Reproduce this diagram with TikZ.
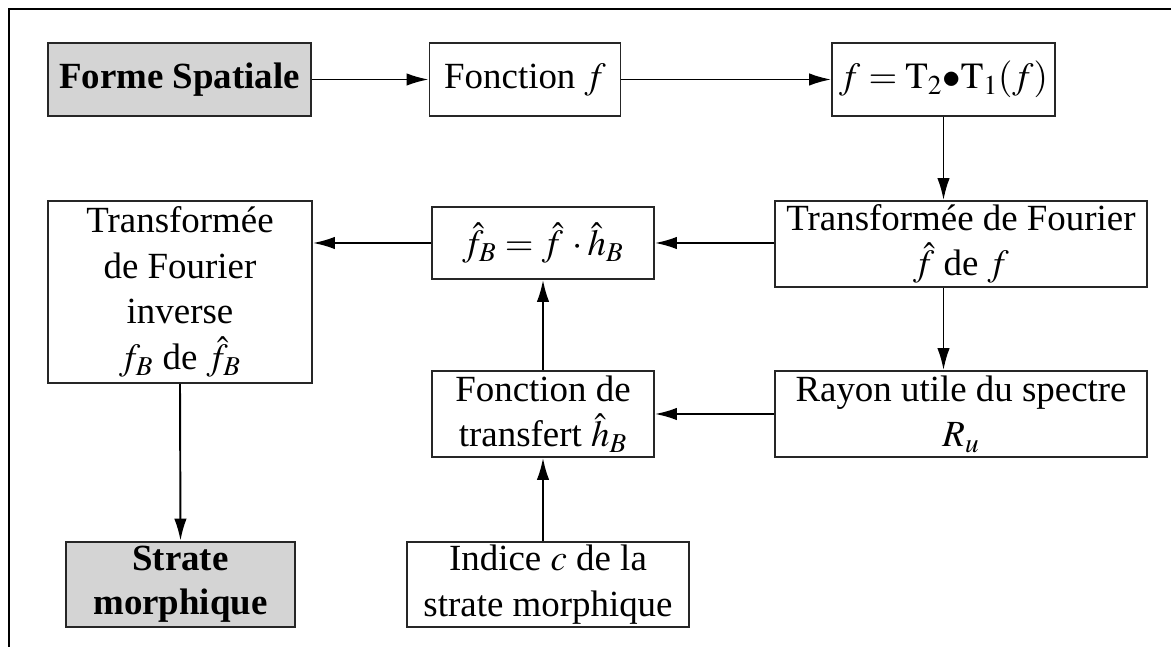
\documentclass[tikz,border=0pt]{standalone}
\usepackage{mathptmx}
\usepackage[no-math]{fontspec}
\setmainfont{Liberation Serif}
\usepackage{tikz}
\usetikzlibrary{arrows.meta,calc,positioning}
\definecolor{formegray}{RGB}{212,212,212}
\tikzset{
  box/.style={draw=black!85, line width=1.1pt, fill=white,
              inner sep=0pt, align=center,
              font=\fontsize{21}{26}\selectfont},
  greybox/.style={box, fill=formegray, line width=1.6pt,
                  font=\fontsize{21}{25}\selectfont\bfseries},
  flow/.style={-{Latex[length=4.4mm,width=2.5mm]}, line width=1.1pt},
  frame/.style={black, line width=1.6pt},
}
\begin{document}
\begin{tikzpicture}[x=1cm,y=1cm]
  \path[use as bounding box] (0,0) rectangle (23.42,12.94);

  % outer frame (top and left only)
  \draw[frame] (0.18,0) -- (0.18,12.76) -- (23.42,12.76);

  % top row
  \node[greybox, minimum width=5.26cm, minimum height=1.46cm] (forme)
    at (3.59,11.35) {Forme Spatiale};
  \node[box, minimum width=3.82cm, minimum height=1.46cm] (fonction)
    at (10.50,11.35) {Fonction $f$};
  \node[box, minimum width=4.46cm, minimum height=1.46cm] (compo)
    at (18.87,11.35) {$f=\mathrm{T}_2{\bullet}\mathrm{T}_1(f)$};

  % middle rows
  \node[box, minimum width=7.44cm, minimum height=1.72cm] (tf)
    at (19.22,8.06) {Transformée de Fourier\\$\hat{f}$\ de $f$};
  \node[box, minimum width=7.44cm, minimum height=1.72cm] (rayon)
    at (19.22,4.66) {Rayon utile du spectre\\$R_u$};
  \node[box, minimum width=4.44cm, minimum height=1.44cm] (prod)
    at (10.86,8.08) {$\hat{f}_B=\hat{f}\,\cdot\hat{h}_B$};
  \node[box, minimum width=4.44cm, minimum height=1.72cm] (transfert)
    at (10.86,4.66) {Fonction de\\transfert $\hat{h}_B$};
  \node[box, minimum width=5.28cm, minimum height=3.64cm] (inverse)
    at (3.60,7.10) {Transformée\\de Fourier\\inverse\\$f_B$ de\ $\hat{f}_B$};

  % bottom row
  \node[greybox, minimum width=4.58cm, minimum height=1.70cm] (strate)
    at (3.61,1.25) {Strate\\morphique};
  \node[box, minimum width=5.64cm, minimum height=1.70cm] (indice)
    at (10.96,1.25) {Indice $c$ de la\\strate morphique};

  % connectors
  \draw[flow] (forme.east) -- (fonction.west);
  \draw[flow] (fonction.east) -- (compo.west);
  \draw[flow] (compo.south) -- (compo.south |- tf.north);
  \draw[flow] (tf.south -| compo.south) -- (rayon.north -| compo.south);
  \draw[flow] (tf.west |- prod.east) -- (prod.east);
  \draw[flow] (rayon.west) -- (transfert.east);
  \draw[flow] (transfert.north) -- (prod.south);
  \draw[flow] (indice.north -| transfert.south) -- (transfert.south);
  \draw[flow] (prod.west) -- (prod.west -| inverse.east);
  \draw[flow] (inverse.south) -- (strate.north);
\end{tikzpicture}
\end{document}
